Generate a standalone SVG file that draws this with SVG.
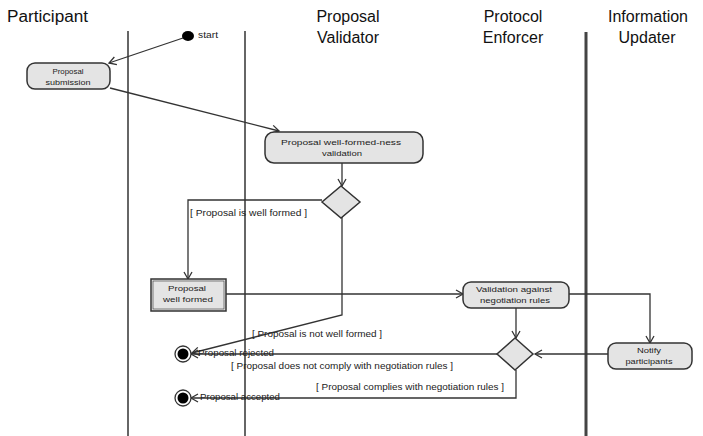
<svg xmlns="http://www.w3.org/2000/svg" width="703" height="436" viewBox="0 0 703 436">
<style>
.hdr{font-family:"Liberation Sans",Arial,sans-serif;font-size:16px;fill:#111;}
.t{font-family:"Liberation Sans",Arial,sans-serif;font-size:8px;fill:#222;text-anchor:middle;}
.g{font-family:"Liberation Sans",Arial,sans-serif;font-size:9px;fill:#222;}
.act{fill:#e4e4e4;stroke:#333;stroke-width:1.5;}
.lane{stroke:#333;stroke-width:1.5;}
.c{fill:none;stroke:#333;stroke-width:1.3;marker-end:url(#ah);}
</style>
<defs>
<marker id="ah" markerWidth="10" markerHeight="10" refX="8" refY="5" orient="auto" markerUnits="userSpaceOnUse">
<path d="M1,1 L8,5 L1,9" fill="none" stroke="#333" stroke-width="1.3"/>
</marker>
</defs>
<rect width="703" height="436" fill="#fff"/>
<g id="headers">
<text class="hdr" x="7" y="22" textLength="81" lengthAdjust="spacingAndGlyphs">Participant</text>
<text class="hdr" x="348" y="22" text-anchor="middle">Proposal</text>
<text class="hdr" x="348" y="43" text-anchor="middle">Validator</text>
<text class="hdr" x="513" y="22" text-anchor="middle">Protocol</text>
<text class="hdr" x="513" y="43" text-anchor="middle">Enforcer</text>
<text class="hdr" x="648" y="22" text-anchor="middle">Information</text>
<text class="hdr" x="647" y="43" text-anchor="middle">Updater</text>
</g>
<g id="lanes">
<line class="lane" x1="128" y1="31" x2="128" y2="436"/>
<line class="lane" x1="245" y1="31" x2="245" y2="436"/>
<line x1="586" y1="32" x2="586" y2="436" stroke="#444" stroke-width="3"/>
</g>
<g id="connectors">
<line class="c" x1="183" y1="38" x2="109" y2="63"/>
<line class="c" x1="110" y1="88" x2="279" y2="131"/>
<line class="c" x1="342" y1="163" x2="342" y2="186"/>
<polyline class="c" points="322,200 188,200 188,279"/>
<polyline class="c" points="342,217 342,315 192,353"/>
<line class="c" x1="226" y1="294" x2="463" y2="294"/>
<polyline class="c" points="569,294 650,294 650,343"/>
<line class="c" x1="516" y1="308" x2="516" y2="338"/>
<line class="c" x1="608" y1="354" x2="535" y2="354"/>
<line class="c" x1="497" y1="354" x2="191" y2="354"/>
<polyline class="c" points="516,370 516,398 191,398"/>
</g>
<g id="start">
<ellipse cx="188" cy="36" rx="6" ry="5" fill="#000"/>
<text class="g" x="198" y="38" font-size="6.5" textLength="20" lengthAdjust="spacingAndGlyphs">start</text>
</g>
<g id="proposal-submission">
<rect class="act" x="27" y="63" width="83" height="26" rx="8"/>
<text class="t" x="68" y="74" textLength="31" lengthAdjust="spacingAndGlyphs">Proposal</text>
<text class="t" x="68" y="85" textLength="45" lengthAdjust="spacingAndGlyphs">submission</text>
</g>
<g id="wellformedness-validation">
<rect class="act" x="265" y="132" width="158" height="31" rx="9"/>
<text class="t" x="341" y="145" textLength="120" lengthAdjust="spacingAndGlyphs">Proposal well-formed-ness</text>
<text class="t" x="342" y="156" textLength="40" lengthAdjust="spacingAndGlyphs">validation</text>
</g>
<g id="decision1">
<polygon class="act" points="341,186 360,202 341,218 322,202"/>
</g>
<g id="proposal-well-formed">
<rect class="act" x="151" y="279" width="75" height="32"/>
<rect x="153" y="281" width="71" height="28" fill="none" stroke="#333" stroke-width="0.6"/>
<text class="t" x="187" y="291" textLength="38" lengthAdjust="spacingAndGlyphs">Proposal</text>
<text class="t" x="188" y="302" textLength="50" lengthAdjust="spacingAndGlyphs">well formed</text>
</g>
<g id="validation-against-rules">
<rect class="act" x="463" y="282" width="106" height="26" rx="8"/>
<text class="t" x="514" y="292" textLength="76" lengthAdjust="spacingAndGlyphs">Validation against</text>
<text class="t" x="515" y="303" textLength="70" lengthAdjust="spacingAndGlyphs">negotiation rules</text>
</g>
<g id="notify-participants">
<rect class="act" x="608" y="343" width="84" height="26" rx="8"/>
<text class="t" x="649" y="353" textLength="24" lengthAdjust="spacingAndGlyphs">Notify</text>
<text class="t" x="649" y="364" textLength="47" lengthAdjust="spacingAndGlyphs">participants</text>
</g>
<g id="decision2">
<polygon class="act" points="515,338 533,354 515,370 497,354"/>
</g>
<g id="final-rejected">
<circle cx="183" cy="354" r="8" fill="#fff" stroke="#333" stroke-width="1.3"/>
<circle cx="183" cy="354" r="5.5" fill="#000"/>
<text class="g" x="198" y="356" font-size="8" textLength="76" lengthAdjust="spacingAndGlyphs">Proposal rejected</text>
</g>
<g id="final-accepted">
<circle cx="183" cy="398" r="8" fill="#fff" stroke="#333" stroke-width="1.3"/>
<circle cx="183" cy="398" r="5.5" fill="#000"/>
<text class="g" x="200" y="400" font-size="8" textLength="80" lengthAdjust="spacingAndGlyphs">Proposal accepted</text>
</g>
<g id="guards">
<text class="g" x="190" y="216" textLength="117" lengthAdjust="spacingAndGlyphs">[ Proposal is well formed ]</text>
<text class="g" x="252" y="337" textLength="130" lengthAdjust="spacingAndGlyphs">[ Proposal is not well formed ]</text>
<text class="g" x="231" y="369" textLength="222" lengthAdjust="spacingAndGlyphs">[ Proposal does not comply with negotiation rules ]</text>
<text class="g" x="316" y="390" textLength="188" lengthAdjust="spacingAndGlyphs">[ Proposal complies with negotiation rules ]</text>
</g>
</svg>
